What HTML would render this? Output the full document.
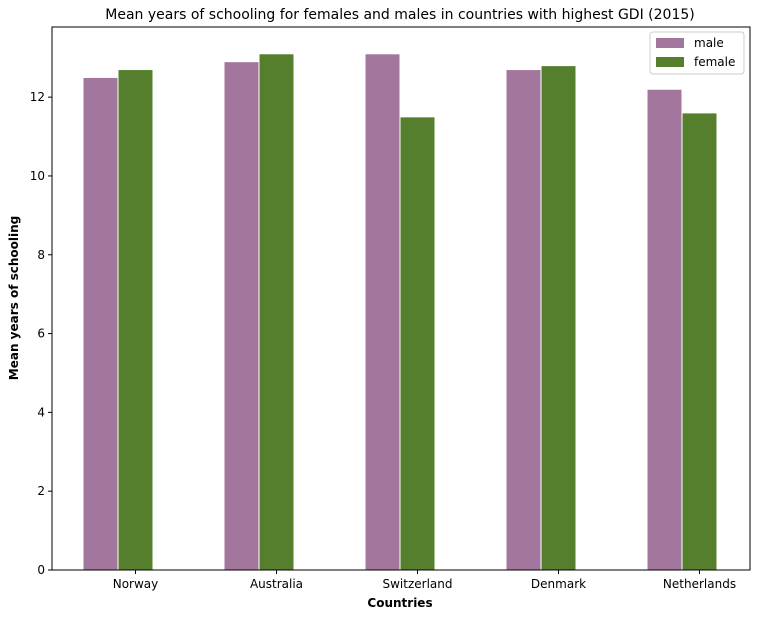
<!DOCTYPE html>
<html><head><meta charset="utf-8"><style>
body{margin:0;background:#fff;font-family:"DejaVu Sans","Liberation Sans",sans-serif;}
</style></head><body>
<svg id="chart" width="761" height="614" xmlns="http://www.w3.org/2000/svg">
<text x="400" y="19" text-anchor="middle" font-size="14" fill="#000">Mean years of schooling for females and males in countries with highest GDI (2015)</text>
<g id="bars"></g>
<g id="axes"></g>
</svg>
<script>
const categories=["Norway","Australia","Switzerland","Denmark","Netherlands"];
const maleValues=[12.5,12.9,13.1,12.7,12.2];
const femaleValues=[12.7,13.1,11.5,12.8,11.6];
const yTicks=[0,2,4,6,8,10,12];
const L=52,R=750,T=27,B=570,yMax=13.78;
const NS="http://www.w3.org/2000/svg";
function y(v){return B-(B-T)*v/yMax;}
const step=141,bw=35,x0=83;
function xMale(i){return x0+i*step;}
function mk(tag,a,p){const e=document.createElementNS(NS,tag);for(const k in a)e.setAttribute(k,a[k]);p.appendChild(e);return e;}
const bars=document.getElementById('bars'),axes=document.getElementById('axes');
categories.forEach((c,i)=>{
  const m=mk('rect',{x:xMale(i),y:y(maleValues[i]),width:bw,height:B-y(maleValues[i]),fill:'#a3779d',stroke:'#fff','stroke-width':1},bars);
  
  
  const f=mk('rect',{x:xMale(i)+bw,y:y(femaleValues[i]),width:bw,height:B-y(femaleValues[i]),fill:'#557f2d',stroke:'#fff','stroke-width':1},bars);
  
  
  const tx=xMale(i)+bw*1.5;
  mk('line',{x1:tx,x2:tx,y1:B,y2:B+4,stroke:'#000'},axes);
  const t=mk('text',{x:tx,y:B+18,'text-anchor':'middle','font-size':12},axes);
  t.textContent=c;
  
  
});
yTicks.forEach(v=>{
  mk('line',{x1:L-4,x2:L,y1:y(v),y2:y(v),stroke:'#000'},axes);
  const t=mk('text',{x:L-7,y:y(v)+4,'text-anchor':'end','font-size':12},axes);
  t.textContent=v;
  
  
});
const fr=mk('rect',{x:L,y:T,width:R-L,height:B-T,fill:'none',stroke:'#000','stroke-width':1},axes);


const xt=mk('text',{x:400,y:607,'text-anchor':'middle','font-size':12,'font-weight':'bold'},axes);
xt.textContent='Countries';


const yt=mk('text',{x:18,y:298,'text-anchor':'middle','font-size':12,'font-weight':'bold',transform:'rotate(-90 18 298)'},axes);
yt.textContent='Mean years of schooling';


const lg=mk('g',{},axes);


mk('rect',{x:650,y:32,width:94,height:42,fill:'#fff',stroke:'#ccc',rx:3},lg);
[['male','#a3779d',43],['female','#557f2d',62]].forEach(([n,c,yy])=>{
  mk('rect',{x:656,y:yy-5,width:28,height:10,fill:c},lg);
  const t=mk('text',{x:694,y:yy+4,'font-size':12},lg);
  t.textContent=n;
  
  
});
</script>
</body></html>
